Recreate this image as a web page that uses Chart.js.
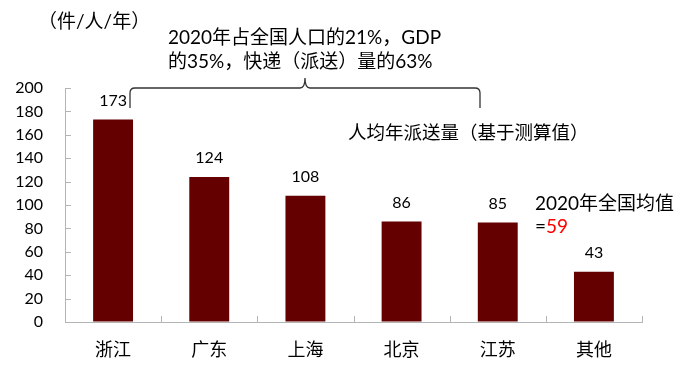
<!DOCTYPE html>
<html>
<head>
<meta charset="utf-8">
<script src="https://cdn.jsdelivr.net/npm/chart.js@4.4.1/dist/chart.umd.min.js"></script>
<style>
  html, body { margin: 0; padding: 0; background: #fff; }
  #wrap { width: 700px; height: 382px; }
</style>
</head>
<body>
<div id="wrap"><canvas id="c" width="700" height="382"></canvas></div>
<script>
const categories = ['浙江', '广东', '上海', '北京', '江苏', '其他'];
const values = [173, 124, 108, 86, 85, 43];
const yTicks = [0, 20, 40, 60, 80, 100, 120, 140, 160, 180, 200];
const unitLabel = '（件/人/年）';
const braceText = ['2020年占全国人口的21%，GDP', '的35%，快递（派送）量的63%'];
const seriesTitle = '人均年派送量（基于测算值）';
const avgLabel = '2020年全国均值';
const avgValue = 59;

const FONT = "Lato, 'Noto Sans CJK SC', sans-serif";
const AXIS_COLOR = '#b4b4b4';

const annotations = {
  id: 'annotations',
  afterDraw(chart) {
    const ctx = chart.ctx;
    const x = chart.scales.x, y = chart.scales.y;
    const area = chart.chartArea;
    ctx.save();
    // inner y ticks
    ctx.strokeStyle = AXIS_COLOR;
    ctx.lineWidth = 1;
    yTicks.forEach(v => {
      const py = Math.round(y.getPixelForValue(v)) + 0.5;
      ctx.beginPath();
      ctx.moveTo(area.left, py);
      ctx.lineTo(area.left + 6, py);
      ctx.stroke();
    });
    // x ticks between categories
    for (let i = 1; i <= categories.length; i++) {
      const px = Math.round(x.getPixelForValue(i - 0.5)) + 0.5;
      ctx.beginPath();
      ctx.moveTo(px, area.bottom);
      ctx.lineTo(px, area.bottom - 6);
      ctx.stroke();
    }
    // value labels
    ctx.fillStyle = '#000';
    ctx.font = '16px ' + FONT;
    ctx.textAlign = 'center';
    ctx.textBaseline = 'middle';
    const meta = chart.getDatasetMeta(0);
    meta.data.forEach((bar, i) => {
      ctx.fillText(String(values[i]), bar.x, bar.y - 19);
    });
    // unit label
    ctx.font = '19px ' + FONT;
    ctx.textAlign = 'left';
    ctx.fillText(unitLabel, 38, 22);
    // brace text
    ctx.fillText(braceText[0], 168, 38);
    ctx.fillText(braceText[1], 168, 62);
    // brace
    ctx.strokeStyle = '#333';
    ctx.lineWidth = 1.3;
    ctx.beginPath();
    ctx.moveTo(130, 108);
    ctx.lineTo(130, 93);
    ctx.quadraticCurveTo(130, 88, 135, 88);
    ctx.lineTo(300, 88);
    ctx.quadraticCurveTo(305, 88, 305, 78);
    ctx.quadraticCurveTo(305, 88, 310, 88);
    ctx.lineTo(475, 88);
    ctx.quadraticCurveTo(480, 88, 480, 93);
    ctx.lineTo(480, 108);
    ctx.stroke();
    // series title
    ctx.font = '18.5px ' + FONT;
    ctx.fillText(seriesTitle, 348, 133);
    // national average
    ctx.font = '19px ' + FONT;
    ctx.fillText(avgLabel, 535, 204);
    ctx.fillText('=', 535, 227);
    const w = ctx.measureText('=').width;
    ctx.fillStyle = '#ff0000';
    ctx.fillText(String(avgValue), 535 + w, 227);
    ctx.restore();
  }
};

new Chart(document.getElementById('c'), {
  type: 'bar',
  data: {
    labels: categories,
    datasets: [{
      data: values,
      backgroundColor: '#650000',
      borderWidth: 0,
      barPercentage: 0.83,
      categoryPercentage: 0.5
    }]
  },
  options: {
    responsive: false,
    animation: false,
    events: [],
    layout: { padding: { top: 88, right: 58, left: 0, bottom: 0 } },
    plugins: { legend: { display: false }, tooltip: { enabled: false } },
    scales: {
      x: {
        grid: { display: true, drawOnChartArea: false, drawTicks: false, color: 'rgba(0,0,0,0)' },
        border: { display: true, color: AXIS_COLOR, width: 1 },
        ticks: { color: '#000', font: { size: 18, family: FONT }, padding: 17 },
        afterFit(s) { s.height = 60; }
      },
      y: {
        min: 0, max: 200,
        afterBuildTicks(s) { s.ticks = yTicks.map(v => ({ value: v })); },
        grid: { display: true, drawOnChartArea: false, drawTicks: false, color: 'rgba(0,0,0,0)' },
        border: { display: true, color: AXIS_COLOR, width: 1 },
        ticks: { color: '#000', font: { size: 16, family: FONT }, padding: 22 },
        afterFit(s) { s.width = 65; }
      }
    }
  },
  plugins: [annotations]
});
</script>
</body>
</html>
